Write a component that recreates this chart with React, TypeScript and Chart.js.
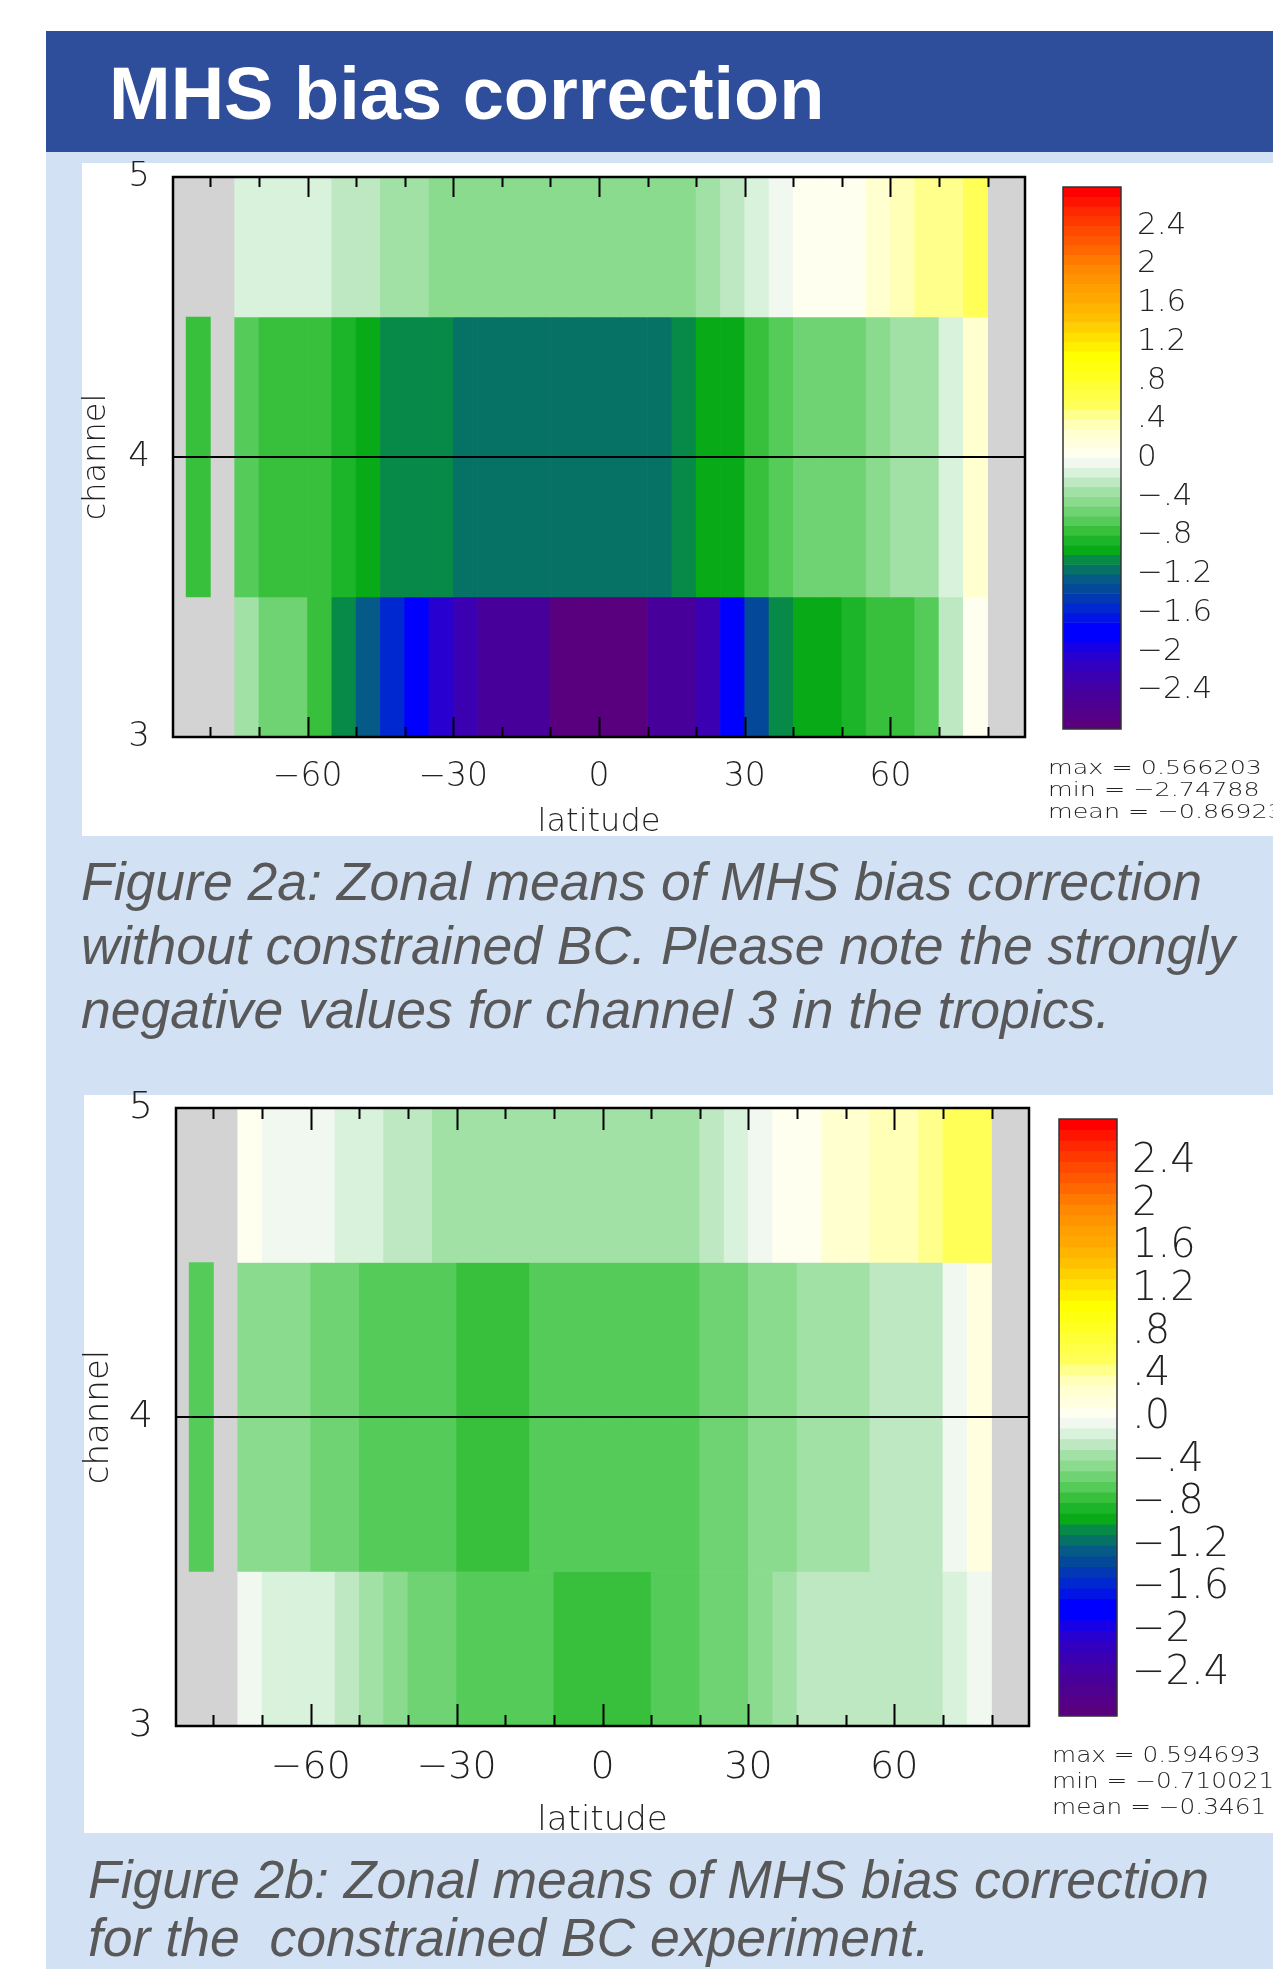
import React, { useEffect, useRef } from 'react';
import { Chart, registerables } from 'chart.js';

Chart.register(...registerables);

// ---------------- data ----------------
// latitude bin edges (5 degree zonal bins)
const latBinEdges = [-85, -80, -75, -70, -65, -60, -55, -50, -45, -40, -35, -30, -25, -20, -15, -10, -5, 0, 5, 10, 15, 20, 25, 30, 35, 40, 45, 50, 55, 60, 65, 70, 75, 80];
const channels = [3, 4, 5];

// Figure 2a: without constrained BC
const figA_ch5 = [null, null, -0.15, -0.16, -0.15, -0.14, -0.25, -0.26, -0.35, -0.36, -0.45, -0.46, -0.47, -0.48, -0.48, -0.47, -0.47, -0.46, -0.45, -0.44, -0.43, -0.36, -0.26, -0.16, -0.06, 0.03, 0.06, 0.08, 0.22, 0.33, 0.42, 0.47, 0.566203];
const figA_ch4 = [-0.75, null, -0.65, -0.74, -0.76, -0.78, -0.86, -0.95, -1.03, -1.07, -1.09, -1.14, -1.16, -1.17, -1.18, -1.19, -1.19, -1.18, -1.16, -1.13, -1.06, -0.98, -0.93, -0.76, -0.66, -0.57, -0.55, -0.53, -0.45, -0.37, -0.33, -0.15, 0.25];
const figA_ch3 = [null, null, -0.35, -0.55, -0.57, -0.75, -1.05, -1.25, -1.55, -1.85, -2.05, -2.25, -2.42, -2.45, -2.48, -2.71, -2.74, -2.74788, -2.72, -2.46, -2.42, -2.25, -1.85, -1.35, -1.05, -0.95, -0.93, -0.85, -0.75, -0.74, -0.65, -0.25, 0.05];

// Figure 2b: constrained BC experiment
const figB_ch5 = [null, null, 0.05, -0.05, -0.06, -0.05, -0.15, -0.16, -0.25, -0.27, -0.35, -0.36, -0.37, -0.38, -0.38, -0.39, -0.38, -0.37, -0.36, -0.35, -0.33, -0.26, -0.16, -0.06, 0.03, 0.07, 0.22, 0.25, 0.33, 0.36, 0.43, 0.52, 0.594693];
const figB_ch4 = [-0.65, null, -0.45, -0.46, -0.47, -0.55, -0.57, -0.62, -0.64, -0.66, -0.68, -0.703, -0.710021, -0.706, -0.68, -0.67, -0.66, -0.65, -0.64, -0.63, -0.62, -0.57, -0.54, -0.46, -0.43, -0.38, -0.36, -0.33, -0.28, -0.25, -0.22, -0.05, 0.15];
const figB_ch3 = [null, null, -0.05, -0.15, -0.16, -0.17, -0.25, -0.35, -0.45, -0.55, -0.57, -0.62, -0.64, -0.66, -0.68, -0.702, -0.705, -0.708, -0.704, -0.68, -0.64, -0.58, -0.53, -0.45, -0.35, -0.28, -0.27, -0.26, -0.25, -0.24, -0.22, -0.15, -0.05];

// axis ticks
const xTickValues = [-80, -70, -60, -50, -40, -30, -20, -10, 0, 10, 20, 30, 40, 50, 60, 70, 80];
const xLabelValues = [-60, -30, 0, 30, 60];
const channelTicks = [3, 4, 5];
const colorbarTicks = [-2.4, -2, -1.6, -1.2, -0.8, -0.4, 0, 0.4, 0.8, 1.2, 1.6, 2, 2.4];

// colour scale levels and colours
const levelEdges = [-2.8, -2.7, -2.6, -2.5, -2.4, -2.3, -2.2, -2.1, -2.0, -1.9, -1.8, -1.7, -1.6, -1.5, -1.4, -1.3, -1.2, -1.1, -1.0, -0.9, -0.8, -0.7, -0.6, -0.5, -0.4, -0.3, -0.2, -0.1, 0, 0.1, 0.2, 0.3, 0.4, 0.5, 0.6, 0.7, 0.8, 0.9, 1.0, 1.1, 1.2, 1.3, 1.4, 1.5, 1.6, 1.7, 1.8, 1.9, 2.0, 2.1, 2.2, 2.3, 2.4, 2.5, 2.6, 2.7, 2.8];
const bandColors = [
  '#58007e', '#540088', '#4e0090', '#48009a', '#4200a6', '#3a00b2', '#3200c0', '#2800d0', '#1800e6', '#0000ff',
  '#0000ff', '#0014e6', '#0028d0', '#0338b4', '#04489a', '#055a88', '#067265', '#078a48', '#08aa18', '#1cb52a',
  '#38c03c', '#55cb5a', '#6fd373', '#8adb8e', '#a1e1a5', '#bde8c1', '#d9f2dc', '#f0f8f0', '#fffff0', '#ffffe0',
  '#ffffd0', '#ffffb8', '#ffff8c', '#ffff58', '#ffff48', '#ffff38', '#ffff20', '#ffff10', '#ffff00', '#fff000',
  '#ffe000', '#ffd000', '#ffc000', '#ffb400', '#ffa800', '#ffa000', '#ff9400', '#ff8800', '#ff7800', '#ff6800',
  '#ff5800', '#ff4800', '#ff3800', '#ff2800', '#ff1400', '#ff0000',
];

// ---------------- helpers ----------------
const FONT = "'DejaVu Sans', 'Liberation Sans', sans-serif";
const TEXT = '#222222';
const MINUS = '\u2212';

function colorFor(v: number): string {
  for (let i = 0; i < bandColors.length; i++) {
    if (v >= levelEdges[i] && v < levelEdges[i + 1]) return bandColors[i];
  }
  return v < levelEdges[0] ? bandColors[0] : bandColors[bandColors.length - 1];
}

function fmtLat(v: number): string {
  return v < 0 ? MINUS + Math.abs(v) : String(v);
}

function fmtBar(v: number, zero: string): string {
  if (Math.abs(v) < 1e-9) return zero;
  const a = Math.round(Math.abs(v) * 10) / 10;
  let s = String(a);
  if (a < 1) s = s.replace(/^0/, '');
  return (v < 0 ? MINUS : '') + s;
}

const plotDecor = {
  id: 'plotDecor',
  beforeDatasetsDraw(chart: any) {
    const { ctx, chartArea: a } = chart;
    ctx.save();
    ctx.fillStyle = '#d3d3d3';
    ctx.fillRect(a.left, a.top, a.right - a.left, a.bottom - a.top);
    ctx.restore();
  },
  afterDraw(chart: any, _args: any, opts: any) {
    const { ctx, chartArea: a } = chart;
    const xs = chart.scales.x;
    ctx.save();
    ctx.strokeStyle = '#000';
    ctx.lineWidth = 2;
    xs.ticks.forEach((t: any) => {
      const px = Math.round(xs.getPixelForValue(t.value)) + 0.5;
      const len = xLabelValues.includes(t.value) ? opts.major : opts.minor;
      ctx.beginPath();
      ctx.moveTo(px, a.top);
      ctx.lineTo(px, a.top + len);
      ctx.moveTo(px, a.bottom);
      ctx.lineTo(px, a.bottom - len);
      ctx.stroke();
    });
    ctx.lineWidth = 2.5;
    ctx.strokeRect(a.left, a.top, a.right - a.left, a.bottom - a.top);
    ctx.restore();
  },
};

const barFrame = {
  id: 'barFrame',
  afterDraw(chart: any) {
    const { ctx, chartArea: a } = chart;
    ctx.save();
    ctx.strokeStyle = '#333';
    ctx.lineWidth = 1.5;
    ctx.strokeRect(a.left, a.top, a.right - a.left, a.bottom - a.top);
    ctx.restore();
  },
};

type HeatProps = {
  rows: { [k: number]: (number | null)[] };
  left: number; top: number; width: number; height: number;
  padding: { left: number; top: number; right: number; bottom: number };
  yAxisWidth: number; xAxisHeight: number;
  tickFont: number; yTickFont: number; titleFont: number;
  xTickPad: number; yTickPad: number;
  major: number; minor: number;
};

function HeatmapChart(p: HeatProps) {
  const ref = useRef<HTMLCanvasElement>(null);
  useEffect(() => {
    const cells: any[] = [];
    const colors: string[] = [];
    channels.forEach((ch) => {
      const vals = p.rows[ch];
      vals.forEach((v, i) => {
        if (v === null || v === undefined) return;
        cells.push({ x: [latBinEdges[i], latBinEdges[i + 1]], y: ch });
        colors.push(colorFor(v));
      });
    });
    const chart = new Chart(ref.current as HTMLCanvasElement, {
      type: 'bar',
      data: {
        datasets: [{
          data: cells,
          backgroundColor: colors,
          borderWidth: 0,
          barPercentage: 1,
          categoryPercentage: 1,
          clip: 0,
        } as any],
      },
      options: {
        indexAxis: 'y',
        animation: false,
        responsive: false,
        events: [],
        layout: { padding: p.padding },
        plugins: {
          legend: { display: false },
          tooltip: { enabled: false },
          plotDecor: { major: p.major, minor: p.minor },
        } as any,
        scales: {
          x: {
            type: 'linear',
            min: -87.7,
            max: 87.7,
            offset: false,
            afterBuildTicks: (s: any) => { s.ticks = xTickValues.map((v) => ({ value: v })); },
            afterFit: (s: any) => { s.height = p.xAxisHeight; },
            ticks: {
              autoSkip: false, maxRotation: 0, minRotation: 0,
              padding: p.xTickPad,
              color: TEXT,
              font: { family: FONT, size: p.tickFont, weight: '300' },
              callback: (v: any) => (xLabelValues.includes(v) ? fmtLat(v) : ''),
            },
            grid: { display: false, drawTicks: false, offset: false },
            border: { display: false },
            title: { display: true, text: 'latitude', color: TEXT, padding: 0, font: { family: FONT, size: p.titleFont, weight: '300' } },
          },
          y: {
            type: 'linear',
            min: 3,
            max: 5,
            offset: false,
            afterBuildTicks: (s: any) => { s.ticks = channelTicks.map((v) => ({ value: v })); },
            afterFit: (s: any) => { s.width = p.yAxisWidth; },
            ticks: {
              autoSkip: false,
              padding: p.yTickPad,
              color: TEXT,
              font: { family: FONT, size: p.yTickFont, weight: '300' },
              callback: (v: any) => String(v),
            },
            grid: {
              drawTicks: false,
              offset: false,
              lineWidth: 2,
              z: 1,
              color: (ctx: any) => (ctx.tick && ctx.tick.value === 4 ? '#000000' : 'rgba(0,0,0,0)'),
            },
            border: { display: false },
            title: { display: true, text: 'channel', color: TEXT, padding: 0, font: { family: FONT, size: p.titleFont, weight: '300' } },
          },
        } as any,
      },
      plugins: [plotDecor as any],
    });
    return () => chart.destroy();
  }, []);
  return (
    <canvas
      ref={ref}
      width={p.width}
      height={p.height}
      style={{ position: 'absolute', left: p.left, top: p.top, width: p.width, height: p.height }}
    />
  );
}

type BarProps = {
  left: number; top: number; width: number; height: number;
  padding: { left: number; top: number; right: number; bottom: number };
  axisWidth: number; tickFont: number; tickPad: number; zeroLabel: string;
};

function ColorbarChart(p: BarProps) {
  const ref = useRef<HTMLCanvasElement>(null);
  useEffect(() => {
    const bands = bandColors.map((_, i) => ({ x: 'scale', y: [levelEdges[i], levelEdges[i + 1]] }));
    const chart = new Chart(ref.current as HTMLCanvasElement, {
      type: 'bar',
      data: {
        labels: ['scale'],
        datasets: [{
          data: bands,
          backgroundColor: bandColors,
          borderWidth: 0,
          barPercentage: 1,
          categoryPercentage: 1,
          clip: 0,
        } as any],
      },
      options: {
        animation: false,
        responsive: false,
        events: [],
        layout: { padding: p.padding },
        plugins: { legend: { display: false }, tooltip: { enabled: false } },
        scales: {
          x: { display: false },
          y: {
            type: 'linear',
            position: 'right',
            min: -2.8,
            max: 2.8,
            afterBuildTicks: (s: any) => { s.ticks = colorbarTicks.map((v) => ({ value: v })); },
            afterFit: (s: any) => { s.width = p.axisWidth; },
            ticks: {
              autoSkip: false,
              padding: p.tickPad,
              color: TEXT,
              font: { family: FONT, size: p.tickFont, weight: '300' },
              callback: (v: any) => fmtBar(v, p.zeroLabel),
            },
            grid: { display: false, drawTicks: false },
            border: { display: false },
          },
        } as any,
      },
      plugins: [barFrame as any],
    });
    return () => chart.destroy();
  }, []);
  return (
    <canvas
      ref={ref}
      width={p.width}
      height={p.height}
      style={{ position: 'absolute', left: p.left, top: p.top, width: p.width, height: p.height }}
    />
  );
}

const captionStyle: React.CSSProperties = {
  position: 'absolute',
  fontFamily: "'Liberation Sans', Arial, sans-serif",
  fontStyle: 'italic',
  fontSize: 53.5,
  color: '#585858',
  whiteSpace: 'pre',
};

const statsStyle: React.CSSProperties = {
  position: 'absolute',
  fontFamily: FONT,
  fontWeight: 300,
  color: TEXT,
  whiteSpace: 'pre',
  transformOrigin: 'left top',
};

export default function App() {
  return (
    <div style={{ position: 'absolute', left: 0, top: 0, width: 1273, height: 1969, background: '#ffffff', overflow: 'hidden' }}>
      {/* header */}
      <div style={{ position: 'absolute', left: 46, top: 31, width: 1227, height: 121, background: '#2e4e9c' }} />
      <div style={{ position: 'absolute', left: 109, top: 57, fontFamily: "'Liberation Sans', Arial, sans-serif", fontWeight: 700, fontSize: 74, lineHeight: '74px', color: '#ffffff', whiteSpace: 'pre' }}>
        MHS bias correction
      </div>
      {/* light panel */}
      <div style={{ position: 'absolute', left: 46, top: 152, width: 1227, height: 1817, background: '#d3e1f5' }} />
      {/* white figure panels */}
      <div style={{ position: 'absolute', left: 82, top: 163, width: 1191, height: 673, background: '#ffffff' }} />
      <div style={{ position: 'absolute', left: 84, top: 1095, width: 1189, height: 738, background: '#ffffff' }} />

      {/* figure 2a */}
      <HeatmapChart
        rows={{ 3: figA_ch3, 4: figA_ch4, 5: figA_ch5 }}
        left={40} top={130} width={1010} height={720}
        padding={{ left: 37.6, top: 47, right: 25, bottom: 8 }}
        yAxisWidth={95.4} xAxisHeight={105}
        tickFont={33} yTickFont={34} titleFont={32}
        xTickPad={21} yTickPad={23}
        major={20} minor={10}
      />
      <ColorbarChart
        left={1050} top={150} width={223} height={620}
        padding={{ left: 13, top: 37, right: 0, bottom: 41 }}
        axisWidth={152} tickFont={31} tickPad={16} zeroLabel="0"
      />
      <div style={{ ...statsStyle, left: 1048, top: 756, fontSize: 20, lineHeight: '22px', transform: 'scaleX(1.27)' }}>
        {'max = 0.566203\nmin = \u22122.74788\nmean = \u22120.86923'}
      </div>
      <div style={{ ...captionStyle, left: 81, top: 850, lineHeight: '64px' }}>
        {'Figure 2a: Zonal means of MHS bias correction\nwithout constrained BC. Please note the strongly\nnegative values for channel 3 in the tropics.'}
      </div>

      {/* figure 2b */}
      <HeatmapChart
        rows={{ 3: figB_ch3, 4: figB_ch4, 5: figB_ch5 }}
        left={40} top={1060} width={1010} height={800}
        padding={{ left: 38.3, top: 48, right: 21, bottom: 18.5 }}
        yAxisWidth={97.7} xAxisHeight={115.5}
        tickFont={38} yTickFont={38} titleFont={34}
        xTickPad={19} yTickPad={23}
        major={22} minor={11}
      />
      <ColorbarChart
        left={1040} top={1080} width={233} height={680}
        padding={{ left: 19, top: 38, right: 0, bottom: 44 }}
        axisWidth={156} tickFont={40} tickPad={15} zeroLabel=".0"
      />
      <div style={{ ...statsStyle, left: 1052, top: 1742, fontSize: 21, lineHeight: '26px', transform: 'scaleX(1.18)' }}>
        {'max = 0.594693\nmin = \u22120.710021\nmean = \u22120.3461'}
      </div>
      <div style={{ ...captionStyle, left: 88, top: 1851, lineHeight: '58px' }}>
        {'Figure 2b: Zonal means of MHS bias correction\nfor the  constrained BC experiment.'}
      </div>
    </div>
  );
}
